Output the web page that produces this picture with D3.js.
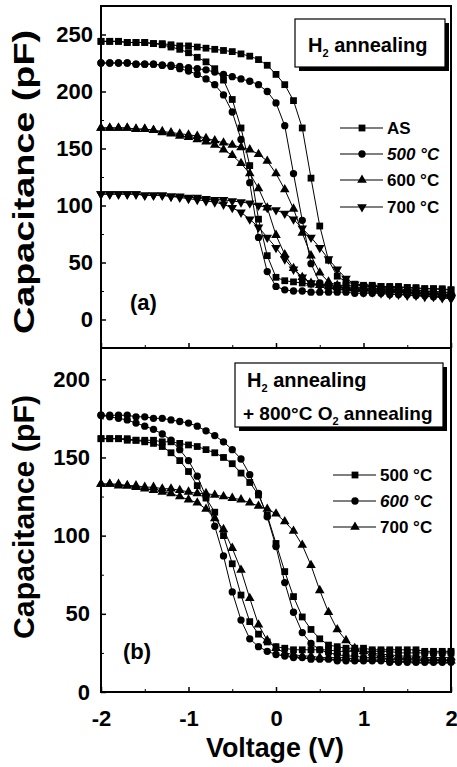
<!DOCTYPE html>
<html lang="en">
<head>
  <meta charset="UTF-8">
  <title>C-V curves, H2 annealing</title>
  <script src="https://d3js.org/d3.v7.min.js"></script>
  <style>
    body { margin: 0; background: #fff; }
    svg { display: block; font-family: 'Liberation Sans', Arial, sans-serif; font-weight: bold; }
  </style>
</head>
<body>
<script>
  // gate voltage, swept -2 V .. 2 V in 0.1 V steps
  const voltage = [-2.0, -1.9, -1.8, -1.7, -1.6, -1.5, -1.4, -1.3, -1.2, -1.1,
                   -1.0, -0.9, -0.8, -0.7, -0.6, -0.5, -0.4, -0.3, -0.2, -0.1,
                    0.0,  0.1,  0.2,  0.3,  0.4,  0.5,  0.6,  0.7,  0.8,  0.9,
                    1.0,  1.1,  1.2,  1.3,  1.4,  1.5,  1.6,  1.7,  1.8,  1.9, 2.0];

  // (a) H2 annealing -- capacitance in pF, two sweep directions per sample
  const asUp    = [244,244,244,243,243,243,242,242,241,240, 240,239,238,237,236,235,233,231,228,223,
                   215,206,192,168,124,82,52,38,33,31, 30,30,29,29,29,28,28,27,27,27, 26];
  const asDown  = [244,244,244,243,243,243,242,241,239,237, 234,230,226,220,210,193,168,135,88,56,
                   37,34,33,32,31,31,30,30,30,30, 29,29,29,28,28,28,27,27,27,26, 26];
  const a500Up  = [225,225,225,225,224,224,224,223,223,222, 221,220,219,217,215,213,211,209,206,200,
                   190,170,128,87,49,32,28,27,26,26, 26,25,25,25,24,24,23,23,22,22, 21];
  const a500Down= [225,225,225,225,224,224,224,223,222,220, 218,215,211,206,197,182,158,120,72,42,
                   29,26,25,25,24,24,24,24,24,23, 23,23,23,22,22,22,21,21,20,20, 20];
  const a600Up  = [168,168,168,168,167,167,166,165,164,163, 162,161,159,157,155,153,151,149,145,139,
                   128,114,97,76,56,41,33,30,29,28, 28,27,27,27,26,26,26,25,25,24, 24];
  const a600Down= [168,168,168,168,167,167,166,164,163,161, 160,158,156,153,149,144,137,128,115,98,
                   74,57,45,37,32,30,29,28,28,27, 27,27,26,26,26,25,25,25,24,24, 23];
  const a700Up  = [110,110,110,110,110,109,109,109,108,108, 107,107,106,105,105,104,103,102,100,98,
                   96,93,88,80,72,63,53,44,36,31, 29,28,27,26,25,24,23,22,21,20, 19];
  const a700Down= [110,110,110,110,110,109,109,109,108,107, 106,105,104,103,101,98,94,88,81,72,
                   63,53,44,37,32,29,28,27,26,25, 24,24,23,22,22,21,21,20,20,19, 18];

  // (b) H2 annealing + 800 C O2 annealing
  const b500Up  = [162,162,162,162,161,161,161,160,160,159, 158,157,155,153,150,146,140,134,126,113,
                   95,77,61,48,40,34,30,29,28,28, 28,27,27,27,27,27,27,26,26,26, 26];
  const b500Down= [162,162,162,161,161,160,159,157,153,148, 141,132,124,115,100,82,62,45,37,32,
                   29,28,27,27,27,27,27,26,26,26, 26,26,26,26,25,25,25,25,25,25, 25];
  const b600Up  = [177,177,177,177,176,176,175,175,174,173, 172,170,167,164,160,155,149,139,127,112,
                   93,70,51,38,31,27,25,24,23,23, 22,22,22,21,21,21,21,20,20,20, 20];
  const b600Down= [177,176,175,174,172,170,168,165,161,155, 148,138,125,106,87,64,46,34,29,26,
                   24,23,22,22,21,21,21,20,20,20, 20,20,20,19,19,19,19,19,19,19, 19];
  const b700Up  = [133,133,133,132,132,131,131,130,130,129, 128,127,127,126,125,124,123,121,119,117,
                   114,109,103,94,81,65,51,40,33,28, 26,25,24,24,23,23,23,22,22,22, 22];
  const b700Down= [133,133,132,132,131,130,129,128,127,125, 123,121,117,111,104,92,78,60,43,33,
                   28,25,24,23,23,22,22,22,22,21, 21,21,21,21,21,21,20,20,20,20, 20];

  const xTicks = [-2, -1, 0, 1, 2];
  const xMinor = [-1.5, -0.5, 0.5, 1.5];
  const aTicks = [0, 50, 100, 150, 200, 250];
  const aMinor = [-25, 25, 75, 125, 175, 225];
  const bTicks = [0, 50, 100, 150, 200];
  const bMinor = [25, 75, 125, 175];

  const W = 457, H = 767;
  const left = 101, right = 451;
  const font = "'Liberation Sans', Arial, sans-serif";

  const svg = d3.select('body').append('svg').attr('width', W).attr('height', H);

  const x = d3.scaleLinear().domain([-2, 2]).range([left, right]);

  const shapes = {
    square: { type: d3.symbolSquare, size: 46, rot: 0 },
    circle: { type: d3.symbolCircle, size: 42, rot: 0 },
    up:     { type: d3.symbolTriangle, size: 40, rot: 0 },
    down:   { type: d3.symbolTriangle, size: 40, rot: 180 }
  };

  const panelA = {
    top: 6, bottom: 348, domain: [-25, 275], ticks: aTicks, minor: aMinor, labelPad: 8,
    tag: '(a)', tagX: 130, tagY: 310,
    yTitleLen: 304, yTitleY: 182,
    legend: { x1: 340, x2: 383, xm: 362, xt: 387, rows: [128, 154, 180, 207] },
    series: [
      { name: 'AS', shape: 'square', up: asUp, down: asDown },
      { name: '500 °C', shape: 'circle', up: a500Up, down: a500Down, italic: true },
      { name: '600 °C', shape: 'up', up: a600Up, down: a600Down },
      { name: '700 °C', shape: 'down', up: a700Up, down: a700Down }
    ]
  };

  const panelB = {
    top: 348, bottom: 692, domain: [0, 220], ticks: bTicks, minor: bMinor, labelPad: 11,
    tag: '(b)', tagX: 123, tagY: 659,
    yTitleLen: 244, yTitleY: 517,
    legend: { x1: 333, x2: 376, xm: 355, xt: 380, rows: [475, 501, 527] },
    series: [
      { name: '500 °C', shape: 'square', up: b500Up, down: b500Down },
      { name: '600 °C', shape: 'circle', up: b600Up, down: b600Down, italic: true },
      { name: '700 °C', shape: 'up', up: b700Up, down: b700Down }
    ]
  };

  function marker(g, shape, cx, cy) {
    const s = shapes[shape];
    g.append('path')
      .attr('d', d3.symbol().type(s.type).size(s.size)())
      .attr('transform', `translate(${cx},${cy}) rotate(${s.rot})`)
      .attr('fill', '#000');
  }

  function drawPanel(p, withXLabels) {
    const y = d3.scaleLinear().domain(p.domain).range([p.bottom, p.top]);
    const g = svg.append('g');

    // y axis, ticks pointing into the plot
    g.append('g').attr('transform', `translate(${left},0)`)
      .call(d3.axisLeft(y).tickValues(p.ticks).tickSize(-5).tickPadding(p.labelPad).tickFormat(d => String(d)))
      .call(a => a.select('.domain').remove())
      .attr('font-size', 22).attr('font-family', font)
      .call(a => a.selectAll('line').attr('stroke-width', 1.5));
    g.append('g').attr('transform', `translate(${left},0)`)
      .call(d3.axisLeft(y).tickValues(p.minor).tickSize(-3).tickFormat(''))
      .call(a => a.select('.domain').remove());

    // x axis along the panel bottom
    g.append('g').attr('transform', `translate(0,${p.bottom})`)
      .call(d3.axisBottom(x).tickValues(xTicks).tickSize(-5).tickPadding(18)
        .tickFormat(d => withXLabels ? String(d) : ''))
      .call(a => a.select('.domain').remove())
      .attr('font-size', 22).attr('font-family', font)
      .call(a => a.selectAll('line').attr('stroke-width', 1.5));
    g.append('g').attr('transform', `translate(0,${p.bottom})`)
      .call(d3.axisBottom(x).tickValues(xMinor).tickSize(-3).tickFormat(''))
      .call(a => a.select('.domain').remove());

    // frame
    g.append('rect')
      .attr('x', left).attr('y', p.top)
      .attr('width', right - left).attr('height', p.bottom - p.top)
      .attr('fill', 'none').attr('stroke', '#000').attr('stroke-width', 2);

    const line = d3.line().x((d, i) => x(voltage[i])).y(d => y(d));

    p.series.forEach(s => {
      [s.up, s.down].forEach(vals => {
        g.append('path').datum(vals)
          .attr('d', line)
          .attr('fill', 'none').attr('stroke', '#000').attr('stroke-width', 1);
      });
    });
    p.series.forEach(s => {
      [s.up, s.down].forEach(vals => {
        vals.forEach((v, i) => marker(g, s.shape, x(voltage[i]), y(v)));
      });
    });

    // legend
    const L = p.legend;
    p.series.forEach((s, i) => {
      const ry = L.rows[i];
      g.append('line').attr('x1', L.x1).attr('x2', L.x2).attr('y1', ry).attr('y2', ry)
        .attr('stroke', '#000').attr('stroke-width', 1.2);
      marker(g, s.shape, L.xm, ry);
      g.append('text').attr('x', L.xt).attr('y', ry).attr('dy', '0.36em')
        .attr('font-size', 17).attr('font-style', s.italic ? 'italic' : 'normal')
        .text(s.name);
    });

    // panel tag
    g.append('text').attr('x', p.tagX).attr('y', p.tagY).attr('font-size', 22).text(p.tag);

    // y title
    g.append('text')
      .attr('transform', `translate(34,${p.yTitleY}) rotate(-90)`)
      .attr('text-anchor', 'middle').attr('font-size', 30)
      .attr('textLength', p.yTitleLen).attr('lengthAdjust', 'spacingAndGlyphs')
      .text('Capacitance (pF)');
  }

  function shadowBox(x0, y0, w, h) {
    svg.append('rect').attr('x', x0 + 4).attr('y', y0 + 4).attr('width', w).attr('height', h).attr('fill', '#000');
    svg.append('rect').attr('x', x0).attr('y', y0).attr('width', w).attr('height', h)
      .attr('fill', '#fff').attr('stroke', '#000').attr('stroke-width', 1.2);
  }

  drawPanel(panelA, false);
  drawPanel(panelB, true);

  // annotation boxes
  shadowBox(295, 19, 150, 48);
  const ta = svg.append('text').attr('x', 308).attr('y', 52).attr('font-size', 20);
  ta.append('tspan').text('H');
  ta.append('tspan').attr('font-size', 11).attr('dy', 5).text('2');
  ta.append('tspan').attr('dy', -5).text(' annealing');

  shadowBox(235, 363, 208, 64);
  const tb1 = svg.append('text').attr('x', 247).attr('y', 387).attr('font-size', 20);
  tb1.append('tspan').text('H');
  tb1.append('tspan').attr('font-size', 11).attr('dy', 5).text('2');
  tb1.append('tspan').attr('dy', -5).text(' annealing');
  const tb2 = svg.append('text').attr('x', 243).attr('y', 420).attr('font-size', 19);
  tb2.append('tspan').text('+ 800°C O');
  tb2.append('tspan').attr('font-size', 11).attr('dy', 5).text('2');
  tb2.append('tspan').attr('dy', -5).text(' annealing');

  // x title
  svg.append('text').attr('x', 275).attr('y', 757).attr('text-anchor', 'middle')
    .attr('font-size', 27).attr('textLength', 138).attr('lengthAdjust', 'spacingAndGlyphs')
    .text('Voltage (V)');
</script>
</body>
</html>
